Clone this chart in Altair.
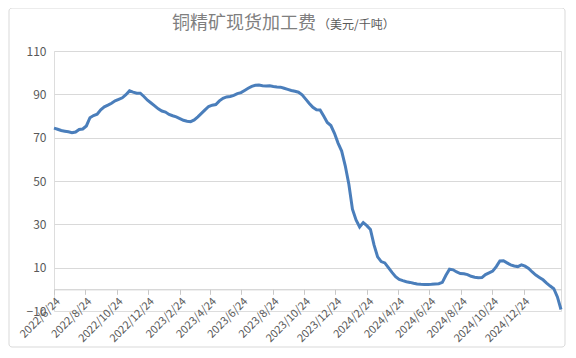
import altair as alt
import pandas as pd

# Weekly spot treatment charge (USD/t)
tc_values = [
    74.4, 73.9, 73.3, 73.0, 72.7, 72.3, 72.6, 73.8, 74.0, 75.4,
    79.2, 80.2, 80.8, 82.9, 84.2, 85.0, 85.9, 87.0, 87.7, 88.4,
    89.8, 91.6, 91.0, 90.5, 90.5, 89.0, 87.3, 86.0, 84.7, 83.3,
    82.3, 81.8, 80.7, 80.1, 79.6, 78.8, 78.0, 77.6, 77.4, 78.2,
    79.6, 81.2, 82.8, 84.4, 85.0, 85.3, 87.0, 88.2, 88.8, 89.0,
    89.5, 90.3, 90.8, 91.8, 92.8, 93.7, 94.2, 94.3, 94.0, 93.8,
    93.9, 93.6, 93.4, 93.3, 92.8, 92.3, 91.8, 91.4, 91.0, 89.8,
    87.8, 85.8, 84.0, 82.9, 82.8, 80.0, 77.0, 75.6, 72.0, 67.5,
    63.8, 57.0, 48.5, 37.0, 32.0, 28.8, 30.8, 29.4, 27.6, 20.5,
    15.0, 12.8, 12.2, 10.0, 7.8, 5.8, 4.6, 4.0, 3.5, 3.2,
    2.8, 2.5, 2.3, 2.2, 2.2, 2.3, 2.5, 2.6, 3.2, 6.5,
    9.3, 9.0, 8.0, 7.3, 7.2, 6.8, 6.0, 5.6, 5.3, 5.4,
    6.8, 7.6, 8.4, 10.5, 13.1, 13.2, 12.2, 11.3, 10.8, 10.5,
    11.3, 10.7, 9.6, 8.0, 6.6, 5.5, 4.4, 2.9, 1.5, 0.3,
    -3.5, -9.3,
]
dates = pd.date_range("2022-06-24", periods=len(tc_values), freq="7D")

tick_dates = [
    (2022, 6, 24), (2022, 8, 24), (2022, 10, 24), (2022, 12, 24),
    (2023, 2, 24), (2023, 4, 24), (2023, 6, 24), (2023, 8, 24),
    (2023, 10, 24), (2023, 12, 24), (2024, 2, 24), (2024, 4, 24),
    (2024, 6, 24), (2024, 8, 24), (2024, 10, 24), (2024, 12, 24),
]
y_ticks = [-10, 10, 30, 50, 70, 90, 110]

main_title = "铜精矿现货加工费"
unit_title = "（美元/千吨）"

df = pd.DataFrame({"date": dates, "tc": tc_values})

FONT = "Noto Sans CJK SC"
LABEL = "#595959"

line = alt.Chart(df).mark_line(color="#4A7EBB", strokeWidth=3).encode(
    x=alt.X(
        "date:T",
        scale=alt.Scale(domain=[alt.DateTime(year=2022, month=6, date=24),
                                alt.DateTime(year=2025, month=3, date=7)]),
        axis=alt.Axis(
            values=[alt.DateTime(year=y, month=m, date=d) for (y, m, d) in tick_dates],
            format="%Y/%-m/%d",
            labelAngle=-45,
            offset=-21.7,
            grid=False,
            tickSize=5,
            tickColor="#c8c8c8",
            domainColor="#c8c8c8",
            labelColor=LABEL,
            labelFont=FONT,
            labelFontSize=11,
            labelPadding=1,
            labelOverlap=False,
            labelFlush=False,
            title=None,
        ),
    ),
    y=alt.Y(
        "tc:Q",
        scale=alt.Scale(domain=[-10, 110], nice=False, zero=False),
        axis=alt.Axis(
            values=y_ticks,
            domain=False,
            ticks=False,
            gridColor="#d9d9d9",
            gridOpacity={"condition": {"test": "datum.value < 0", "value": 0}, "value": 1},
            labelColor=LABEL,
            labelFont=FONT,
            labelFontSize=12,
            labelPadding=8,
            title=None,
        ),
    ),
)

one = pd.DataFrame({"main": [main_title], "unit": [unit_title]})

title_main = alt.Chart(one).mark_text(
    font=FONT, fontSize=18, color="#7f7f7f", align="center", baseline="middle"
).encode(text="main:N", x=alt.value(190), y=alt.value(-27))

title_unit = alt.Chart(one).mark_text(
    font=FONT, fontSize=12, color=LABEL, align="left", baseline="middle"
).encode(text="unit:N", x=alt.value(264), y=alt.value(-26))

frame = alt.Chart(one).mark_rect(
    fillOpacity=0, stroke="#d9d9d9", strokeWidth=1, cornerRadius=3
).encode(x=alt.value(-45), x2=alt.value(511), y=alt.value(-43), y2=alt.value(296))

chart = alt.layer(frame, line, title_main, title_unit).properties(
    width=507,
    height=260,
    autosize=alt.AutoSizeParams(type="none"),
    padding={"left": 46, "top": 43, "right": 6, "bottom": 38},
).configure_view(stroke=None).configure(background="white")

chart.save("out.html", embed_options={"renderer": "svg", "actions": False})
